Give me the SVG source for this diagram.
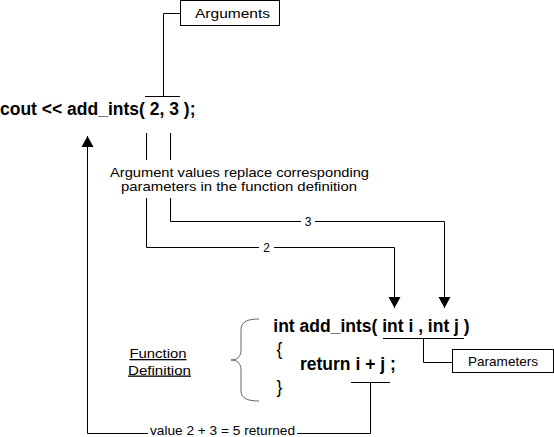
<svg xmlns="http://www.w3.org/2000/svg" width="554" height="437" viewBox="0 0 554 437">
<style>
.code{font-family:"Liberation Sans",Arial,sans-serif;font-weight:bold;font-size:17.5px;fill:#000}
.lbl{font-family:"Liberation Sans",Arial,sans-serif;font-size:13px;fill:#000}
.ln{fill:none;stroke:#000;stroke-width:1}
.box{fill:#fff;stroke:#000;stroke-width:1}
</style>
<defs>
<marker id="ah" markerUnits="userSpaceOnUse" markerWidth="14" markerHeight="14" viewBox="0 0 14 14" refX="11" refY="7" orient="auto">
<path d="M0,1 L11,7 L0,13 Z" fill="#000"/>
</marker>
</defs>
<rect width="554" height="437" fill="#fff"/>
<g id="connectors">
<polyline class="ln" points="180,13.5 163.5,13.5 163.5,96.5"/>
<line class="ln" x1="145" y1="96.5" x2="180" y2="96.5"/>
<line class="ln" x1="146.5" y1="133" x2="146.5" y2="160"/>
<line class="ln" x1="170.5" y1="133" x2="170.5" y2="160"/>
<polyline class="ln" points="146.5,198 146.5,247.5 259,247.5"/>
<polyline class="ln" points="274,247.5 394.5,247.5 394.5,308" marker-end="url(#ah)"/>
<text class="lbl" x="266.5" y="251.5" text-anchor="middle" style="font-size:12px">2</text>
<polyline class="ln" points="170.5,198 170.5,221.5 301,221.5"/>
<polyline class="ln" points="315,221.5 444.5,221.5 444.5,308" marker-end="url(#ah)"/>
<text class="lbl" x="308" y="225.5" text-anchor="middle" style="font-size:12px">3</text>
<line class="ln" x1="383" y1="338.5" x2="464" y2="338.5"/>
<polyline class="ln" points="423.5,338.5 423.5,362.5 452.5,362.5"/>
<line class="ln" x1="351" y1="382.5" x2="390" y2="382.5"/>
<polyline class="ln" points="370.5,382.5 370.5,433.5 297,433.5"/>
<polyline class="ln" points="148,433.5 87.5,433.5 87.5,136" marker-end="url(#ah)"/>
<text class="lbl" x="150" y="434.5" textLength="145" lengthAdjust="spacingAndGlyphs" style="font-size:12px">value 2 + 3 = 5 returned</text>
</g>
<g id="arguments">
<rect class="box" x="180.5" y="0.5" width="99" height="25"/>
<text class="lbl" x="195" y="18" textLength="75" lengthAdjust="spacingAndGlyphs">Arguments</text>
</g>
<g id="call">
<text class="code" x="0" y="115">cout &lt;&lt; add_ints( 2, 3 );</text>
</g>
<g id="note">
<text class="lbl" x="110" y="176.5" textLength="259" lengthAdjust="spacingAndGlyphs">Argument values replace corresponding</text>
<text class="lbl" x="121" y="191" textLength="236" lengthAdjust="spacingAndGlyphs">parameters in the function definition</text>
</g>
<g id="definition">
<path d="M259,319 C249,319 241,321 241,330 L241,350 C241,357 237,360 231,360 C237,360 241,363 241,370 L241,391 C241,399 249,401 259,401" fill="none" stroke="#666" stroke-width="1"/>
<text class="code" x="273.3" y="331.5">int add_ints( int i , int j )</text>
<text class="code" x="276.5" y="355" style="font-weight:normal">{</text>
<text class="code" x="300" y="370">return i + j ;</text>
<text class="code" x="276.5" y="393" style="font-weight:normal">}</text>
</g>
<g id="function-definition-label">
<text class="lbl" x="129.5" y="358" textLength="57" lengthAdjust="spacingAndGlyphs" text-decoration="underline">Function</text>
<text class="lbl" x="128" y="374.5" textLength="63" lengthAdjust="spacingAndGlyphs" text-decoration="underline">Definition</text>
</g>
<g id="parameters">
<rect class="box" x="452.5" y="349.5" width="101" height="23"/>
<text class="lbl" x="468" y="366" textLength="70" lengthAdjust="spacingAndGlyphs">Parameters</text>
</g>
</svg>
